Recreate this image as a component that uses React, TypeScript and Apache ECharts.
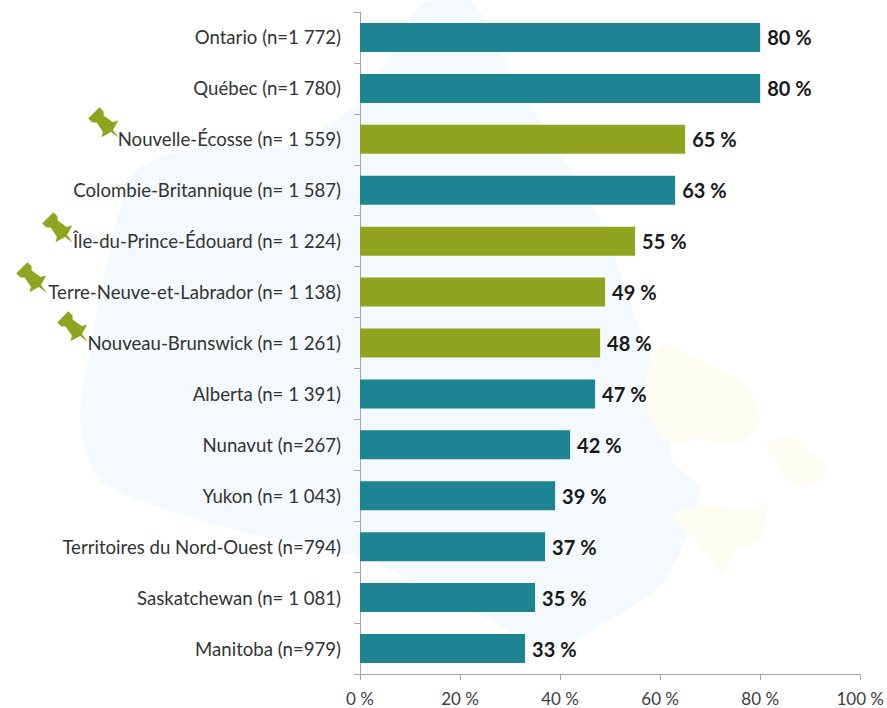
import React, { useEffect, useRef } from "react";
import * as echarts from "echarts";

const categories = [
  "Ontario (n=1 772)",
  "Québec (n=1 780)",
  "Nouvelle-Écosse (n= 1 559)",
  "Colombie-Britannique (n= 1 587)",
  "Île-du-Prince-Édouard (n= 1 224)",
  "Terre-Neuve-et-Labrador (n= 1 138)",
  "Nouveau-Brunswick (n= 1 261)",
  "Alberta (n= 1 391)",
  "Nunavut (n=267)",
  "Yukon (n= 1 043)",
  "Territoires du Nord-Ouest (n=794)",
  "Saskatchewan (n= 1 081)",
  "Manitoba (n=979)",
];
const values = [80, 80, 65, 63, 55, 49, 48, 47, 42, 39, 37, 35, 33];
const pinned = [false, false, true, false, true, true, true, false, false, false, false, false, false];
const TEAL = "#1f8492";
const OLIVE = "#91a41f";
const FONT = "Lato, Carlito, 'Open Sans', sans-serif";

const pinTips = [[119, 138], [73, 243], [47, 293], [88, 342]];
const pinShape = [[-19.6, -30.8], [-15.4, -26.6], [-15.4, -22.4], [-6.3, -16.1], [-0.7, -17.5], [-6, -8], [0, 0], [-8, -6], [-17.5, -0.7], [-16.1, -6.3], [-22.4, -15.4], [-26.6, -15.4], [-30.8, -19.6]];

const mapBlue = [[88, 360], [133, 175], [200, 147], [283, 147], [353, 107], [400, 40], [420, 5], [470, 0], [520, 90], [600, 220], [640, 330], [668, 400], [672, 460], [700, 490], [665, 580], [610, 620], [550, 650], [500, 625], [430, 590], [360, 557], [277, 540], [167, 510], [100, 480], [80, 423]];
const mapYellowA = [[643, 400], [660, 345], [700, 360], [745, 385], [760, 420], [740, 443], [700, 440], [665, 440]];
const mapYellowB = [[673, 515], [710, 505], [755, 510], [767, 500], [760, 540], [735, 550], [722, 573], [700, 545]];
const mapYellowC = [[767, 445], [790, 437], [827, 465], [825, 478], [800, 487], [780, 470]];

export default function App() {
  const ref = useRef<HTMLDivElement>(null);
  useEffect(() => {
    const chart = echarts.init(ref.current!, undefined, { renderer: "svg" });
    const map = [
      { pts: mapBlue, fill: "#f3f9fc" },
      { pts: mapYellowA, fill: "#fcfcf0" },
      { pts: mapYellowB, fill: "#fcfcf0" },
      { pts: mapYellowC, fill: "#fdfdf4" },
    ].map((m) => ({
      type: "polygon",
      silent: true,
      z: -10,
      shape: { points: m.pts, smooth: 0.25 },
      style: { fill: m.fill },
    }));
    const pins = pinTips.map(([x, y]) => ({
      type: "polygon",
      silent: true,
      z: 50,
      x,
      y,
      shape: { points: pinShape },
      style: { fill: OLIVE },
    }));
    chart.setOption({
      animation: false,
      backgroundColor: "#ffffff",
      graphic: { elements: [...map, ...pins] },
      grid: { left: 360, right: 23, top: 12, bottom: 34, containLabel: false },
      xAxis: {
        type: "value",
        min: 0,
        max: 100,
        interval: 20,
        splitLine: { show: false },
        axisLine: { show: true, lineStyle: { color: "#a6a6a6" } },
        axisTick: { show: true, length: 6, lineStyle: { color: "#a6a6a6" } },
        axisLabel: {
          formatter: "{value} %",
          color: "#404040",
          fontFamily: FONT,
          fontSize: 17,
          margin: 15.5,
        },
      },
      yAxis: {
        type: "category",
        inverse: true,
        data: categories,
        axisLine: { show: true, lineStyle: { color: "#a6a6a6" } },
        axisTick: { show: true, length: 6, lineStyle: { color: "#a6a6a6" } },
        axisLabel: { color: "#333333", fontFamily: FONT, fontSize: 18.6, margin: 19 },
      },
      series: [
        {
          type: "bar",
          barWidth: 29,
          data: values.map((v, i) => ({
            value: v,
            itemStyle: { color: pinned[i] ? OLIVE : TEAL },
          })),
          label: {
            show: true,
            position: "right",
            distance: 7,
            formatter: "{c} %",
            color: "#1a1a1a",
            fontFamily: FONT,
            fontWeight: "bold",
            fontSize: 20,
          },
        },
      ],
    });
    return () => chart.dispose();
  }, []);
  return <div ref={ref} style={{ position: "fixed", left: 0, top: 0, width: 887, height: 708 }} />;
}
